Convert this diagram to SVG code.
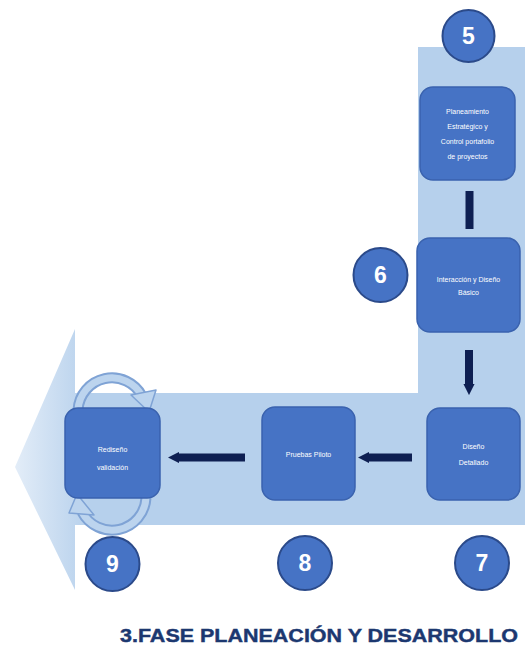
<svg xmlns="http://www.w3.org/2000/svg" width="525" height="646" viewBox="0 0 525 646">
<defs>
<linearGradient id="bandGrad" gradientUnits="userSpaceOnUse" x1="15" y1="0" x2="90" y2="0">
<stop offset="0" stop-color="#E3EDF8"/>
<stop offset="1" stop-color="#B6D0EC"/>
</linearGradient>
<marker id="tip" viewBox="0 0 10 10" refX="1" refY="5" markerWidth="1.4" markerHeight="1.4" orient="auto-start-reverse">
<path d="M0 0 L10 5 L0 10 Z" fill="#0E1F52"/>
</marker>
</defs>
<style>
.box{fill:#4673C5;stroke:#3A62AE;stroke-width:1.5}
.lbl{fill:#FFFFFF;font-family:"Liberation Sans","Open Sans",sans-serif;font-size:7px;text-anchor:middle}
.badge{fill:#4673C5;stroke:#2B4A8A;stroke-width:2}
.num{fill:#FFFFFF;font-family:"Liberation Sans",Arial,sans-serif;font-weight:bold;font-size:23px;text-anchor:middle}
.bar{stroke:#0E1F52;stroke-width:8;fill:none}
.loopOut{fill:none;stroke:#7FA3D5;stroke-width:11}
.loopIn{fill:none;stroke:#BCD4EE;stroke-width:7}
.loopHead{fill:#BCD4EE;stroke:#7FA3D5;stroke-width:1.5;stroke-linejoin:round}
</style>
<rect width="525" height="646" fill="#FFFFFF"/>
<g id="band">
<path d="M418 47 L525 47 L525 525 L75 525 L75 590 L15 467 L75 329 L75 393 L418 393 Z" fill="url(#bandGrad)"/>
</g>
<g id="loops">
<path class="loopOut" d="M78 410 A34 34 0 0 1 142 396"/>
<path class="loopIn" d="M78 410 A34 34 0 0 1 142 396"/>
<polygon class="loopHead" points="131,395 156,390 149,412"/>
<path class="loopOut" d="M146 498 A34 34 0 0 1 82 512"/>
<path class="loopIn" d="M146 498 A34 34 0 0 1 82 512"/>
<polygon class="loopHead" points="69,513 94,515 77,494"/>
</g>
<g id="connectors">
<line class="bar" x1="469.5" y1="191" x2="469.5" y2="229"/>
<line class="bar" x1="469" y1="350" x2="469" y2="385" marker-end="url(#tip)"/>
<line class="bar" x1="412" y1="457.5" x2="368" y2="457.5" marker-end="url(#tip)"/>
<line class="bar" x1="245" y1="457.5" x2="178" y2="457.5" marker-end="url(#tip)"/>
</g>
<g id="node5">
<rect class="box" x="420" y="87" width="95" height="93" rx="13"/>
<text class="lbl" x="467.5" y="114">Planeamiento</text>
<text class="lbl" x="467.5" y="129">Estratégico y</text>
<text class="lbl" x="467.5" y="144">Control portafolio</text>
<text class="lbl" x="467.5" y="159">de proyectos</text>
</g>
<g id="node6">
<rect class="box" x="417" y="238" width="103" height="94" rx="13"/>
<text class="lbl" x="468.5" y="282">Interacción y Diseño</text>
<text class="lbl" x="468.5" y="295">Básico</text>
</g>
<g id="node7">
<rect class="box" x="427" y="408" width="93" height="92" rx="13"/>
<text class="lbl" x="473.5" y="449">Diseño</text>
<text class="lbl" x="473.5" y="465">Detallado</text>
</g>
<g id="node8">
<rect class="box" x="262" y="407" width="93" height="93" rx="13"/>
<text class="lbl" x="308.5" y="457">Pruebas Piloto</text>
</g>
<g id="node9">
<rect class="box" x="65" y="408" width="95" height="90" rx="13"/>
<text class="lbl" x="112.5" y="452">Rediseño</text>
<text class="lbl" x="112.5" y="470">validación</text>
</g>
<g id="badge5"><circle class="badge" cx="468.5" cy="36" r="26"/><text class="num" x="468.5" y="44">5</text></g>
<g id="badge6"><circle class="badge" cx="380.5" cy="275" r="27"/><text class="num" x="380.5" y="283">6</text></g>
<g id="badge9"><circle class="badge" cx="112.5" cy="564" r="27"/><text class="num" x="112.5" y="572">9</text></g>
<g id="badge8"><circle class="badge" cx="305" cy="563" r="27"/><text class="num" x="305" y="571">8</text></g>
<g id="badge7"><circle class="badge" cx="482" cy="563" r="27"/><text class="num" x="482" y="571">7</text></g>
<g id="title">
<text x="120" y="642" fill="#1C3870" font-family="'Liberation Sans',Arial,sans-serif" font-weight="bold" font-size="18" textLength="398" lengthAdjust="spacingAndGlyphs" stroke="#1C3870" stroke-width="0.4">3.FASE PLANEACIÓN Y DESARROLLO</text>
</g>
</svg>
